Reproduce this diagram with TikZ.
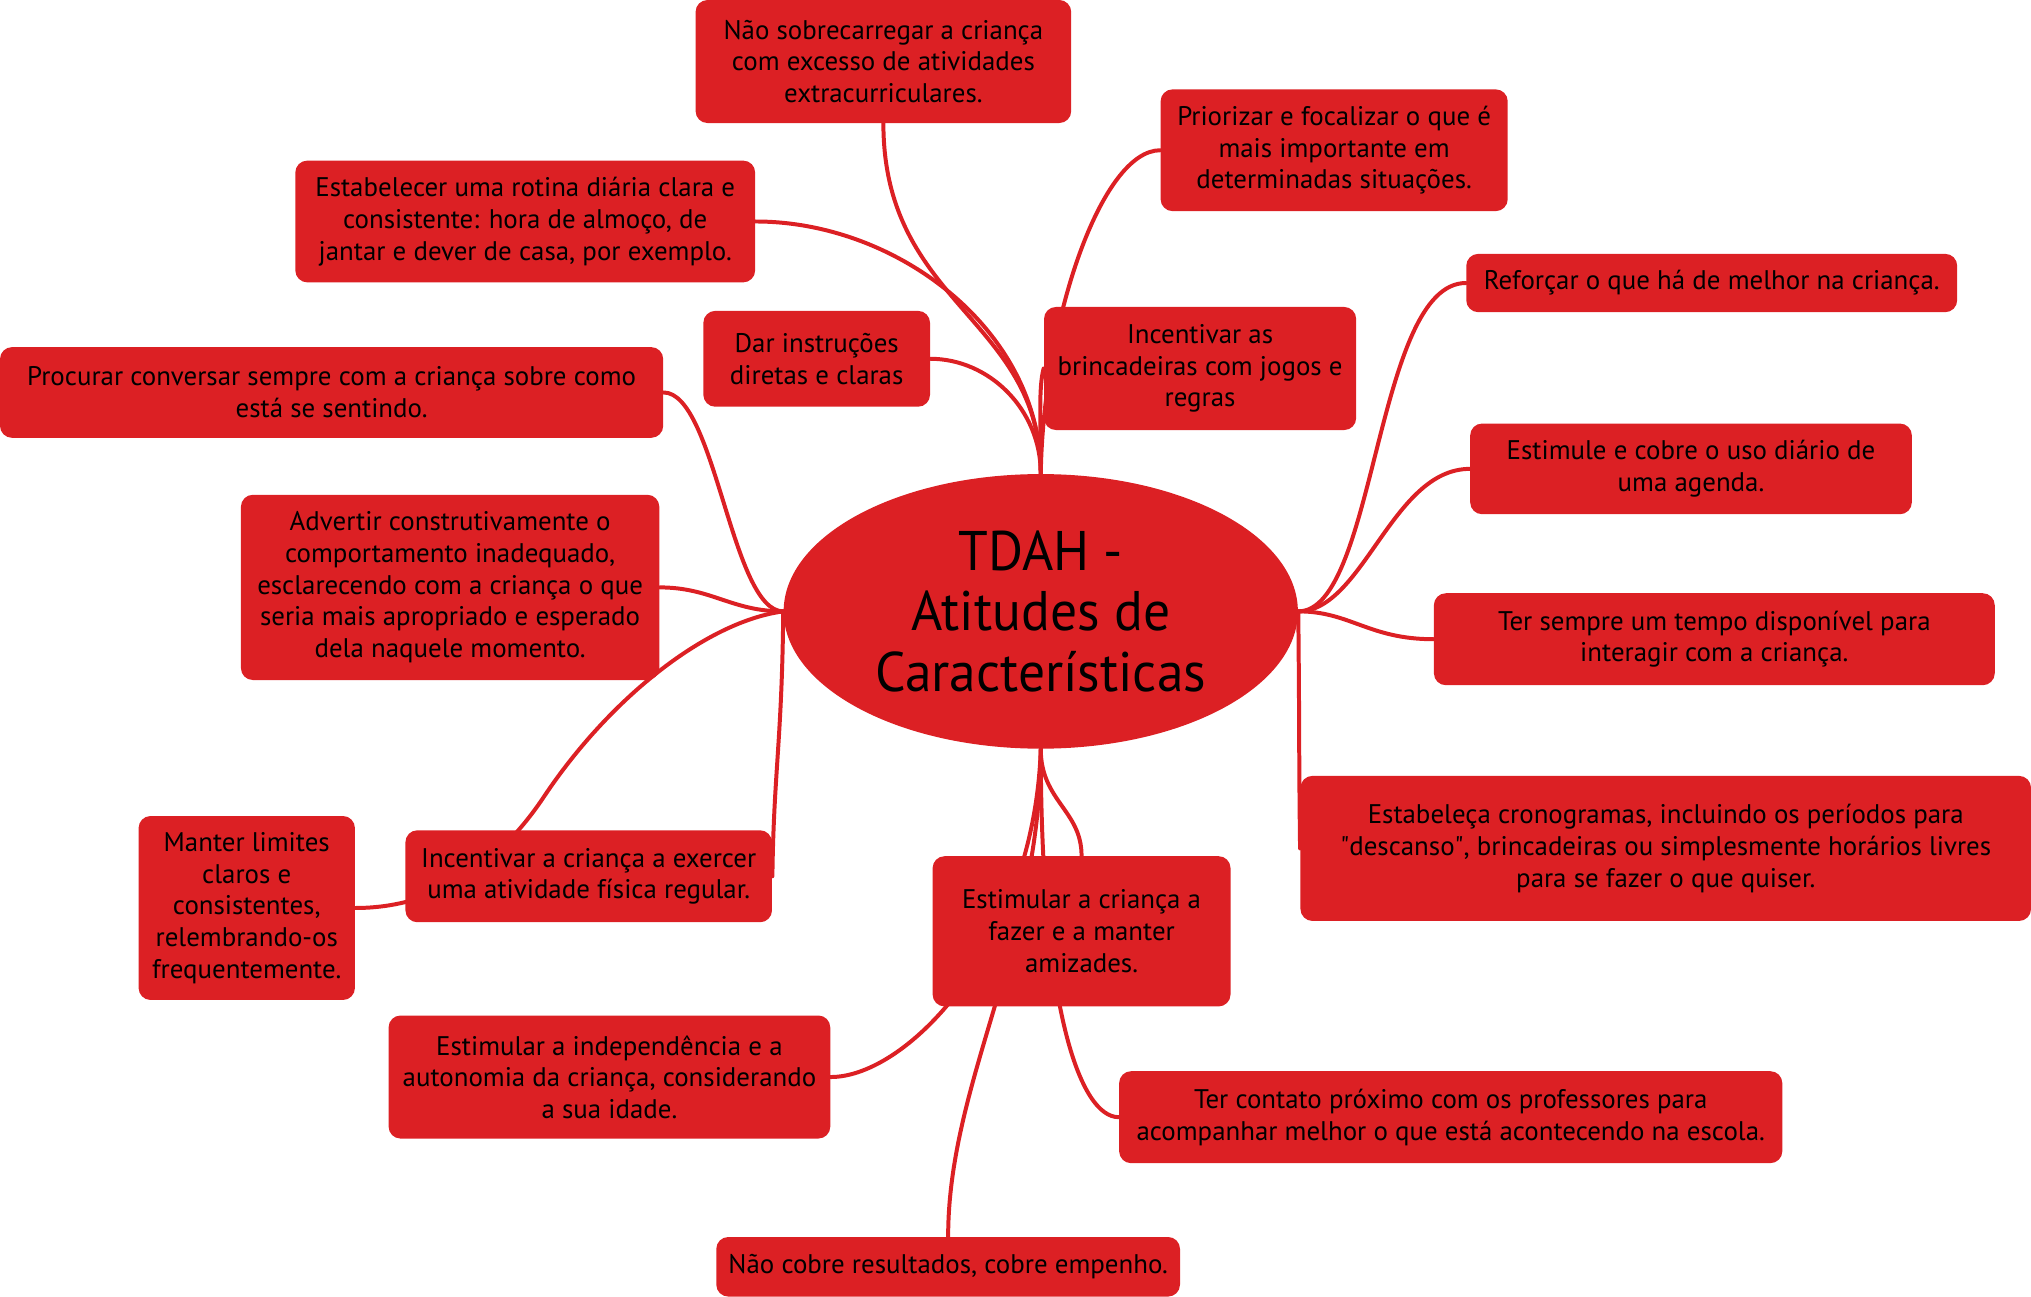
\documentclass[tikz,border=0pt]{standalone}
\usepackage{fontspec}
\setmainfont{PT Sans}
\newfontfamily\titlefont[FakeStretch=0.96]{PT Sans}
\usetikzlibrary{shapes.geometric,backgrounds}
\definecolor{mapred}{RGB}{220,32,36}
\newcommand\unitpx{0.65pt}

\begin{document}
\begin{tikzpicture}[x=0.65pt, y=-0.65pt,
    every node/.style={font=\fontsize{13.5}{15.9}\selectfont},
    idea/.style={fill=mapred, rounded corners=6pt, align=center, inner sep=2pt},
    boxsize/.style 2 args={minimum width=#1*\unitpx, minimum height=#2*\unitpx},
    core/.style={ellipse, fill=mapred, align=center, inner sep=0pt, font=\titlefont\fontsize{28}{30.2}\selectfont},
    link/.style={draw=mapred, line width=2pt, line cap=round}
]
\useasboundingbox (0,0) rectangle (1568,1001);

\node[core, boxsize={397}{212}] (core) at (803.5,472) {TDAH -\\Atitudes de\\Características};

\node[idea, boxsize={290}{95}] (noSobre) at (682,47.5) {Não sobrecarregar a criança\\com excesso de atividades\\extracurriculares.};
\node[idea, boxsize={268}{94}] (prior) at (1030,116) {Priorizar e focalizar o que é\\mais importante em\\determinadas situações.};
\node[idea, boxsize={355}{94}] (rotina) at (405.5,171) {Estabelecer uma rotina diária clara e\\consistente: hora de almoço, de\\jantar e dever de casa, por exemplo.};
\node[idea, boxsize={379}{45}] (reforcar) at (1321.5,218.5) {Reforçar o que há de melhor na criança.};
\node[idea, boxsize={175}{74}] (instr) at (630.5,277) {Dar instruções\\diretas e claras};
\node[idea, boxsize={241}{95}] (brinc) at (926.5,284.5) {Incentivar as\\brincadeiras com jogos e\\regras};
\node[idea, boxsize={512}{70}] (conversar) at (256,303) {Procurar conversar sempre com a criança sobre como\\está se sentindo.};
\node[idea, boxsize={341}{70}] (agenda) at (1305.5,362) {Estimule e cobre o uso diário de\\uma agenda.};
\node[idea, boxsize={323}{143}] (advertir) at (347.5,453.5) {Advertir construtivamente o\\comportamento inadequado,\\esclarecendo com a criança o que\\seria mais apropriado e esperado\\dela naquele momento.};
\node[idea, boxsize={433}{71}] (tempo) at (1323.5,493.5) {Ter sempre um tempo disponível para\\interagir com a criança.};
\node[idea, boxsize={564}{112}] (crono) at (1286,655) {Estabeleça cronogramas, incluindo os períodos para\\\textquotedbl descanso\textquotedbl, brincadeiras ou simplesmente horários livres\\para se fazer o que quiser.};
\node[idea, boxsize={167}{142}] (limites) at (190.5,701) {Manter limites\\claros e\\consistentes,\\relembrando-os\\frequentemente.};
\node[idea, boxsize={283}{71}] (exercer) at (454.5,676.5) {Incentivar a criança a exercer\\uma atividade física regular.};
\node[idea, boxsize={230}{116}] (amizades) at (835,719) {Estimular a criança a\\fazer e a manter\\amizades.};
\node[idea, boxsize={341}{95}] (indep) at (470.5,831.5) {Estimular a independência e a\\autonomia da criança, considerando\\a sua idade.};
\node[idea, boxsize={512}{71}] (contato) at (1120,862.5) {Ter contato próximo com os professores para\\acompanhar melhor o que está acontecendo na escola.};
\node[idea, boxsize={358}{46}] (naoCobre) at (732,978) {Não cobre resultados, cobre empenho.};

\coordinate (limBend) at (420,615);

\begin{scope}[on background layer]
\draw[link] (core.north) .. controls +(0,-120) and +(0,140) .. (noSobre.south);
\draw[link] (core.north) .. controls +(0,-110) and +(110,0) .. (rotina.east);
\draw[link] (core.north) .. controls +(0,-50) and +(45,0) .. (instr.east);
\draw[link] (core.north) .. controls +(0,-40) and +(-4,15) .. (brinc.west);
\draw[link] (core.north) .. controls +(2,-120) and +(-45,0) .. (prior.west);

\draw[link] (core.east) .. controls +(60,0) and +(-70,0) .. (reforcar.west);
\draw[link] (core.east) .. controls +(50,0) and +(-60,0) .. (agenda.west);
\draw[link] (core.east) .. controls +(40,0) and +(-50,0) .. (tempo.west);
\draw[link] (core.east) .. controls +(1,100) and +(-1,-80) .. (crono.west);

\draw[link] (core.west) .. controls +(-40,0) and +(40,0) .. (conversar.east);
\draw[link] (core.west) .. controls +(-40,0) and +(40,0) .. (advertir.east);
\draw[link] (core.west) .. controls +(-1,100) and +(1,-80) .. (exercer.east);
\draw[link] (core.west) .. controls +(-60,8) and +(50,-75) .. (limBend)
    .. controls +(-50,75) and +(36,0) .. (limites.east);

\draw[link] (core.south) .. controls +(0,40) and +(0,-35) .. (amizades.north);
\draw[link] (core.south) .. controls +(-5,150) and +(60,0) .. (indep.east);
\draw[link] (core.south) .. controls +(0,150) and +(0,-120) .. (naoCobre.north);
\draw[link] (core.south) .. controls +(0,200) and +(-30,0) .. (contato.west);
\end{scope}
\end{tikzpicture}
\end{document}
